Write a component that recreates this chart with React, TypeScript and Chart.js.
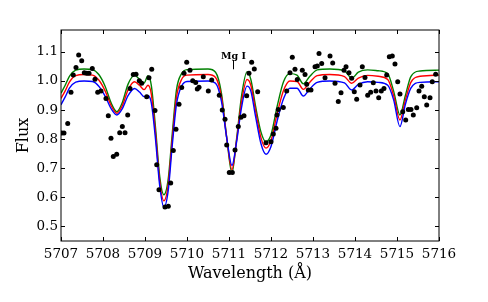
import React, { useEffect, useRef } from "react";
import { Chart, registerables } from "chart.js";

Chart.register(...registerables);

// Observed spectrum (points)
const obsWave = [
  5707.017, 5707.071, 5707.160, 5707.238, 5707.293, 5707.357, 5707.421, 5707.493, 5707.555, 5707.612,
  5707.667, 5707.745, 5707.810, 5707.874, 5707.952, 5708.071, 5708.126, 5708.190, 5708.245, 5708.326,
  5708.398, 5708.460, 5708.524, 5708.588, 5708.643, 5708.721, 5708.786, 5708.864, 5708.921, 5709.040,
  5709.095, 5709.160, 5709.238, 5709.279, 5709.333, 5709.476, 5709.555, 5709.612, 5709.674, 5709.738,
  5709.810, 5709.874, 5709.929, 5709.993, 5710.071, 5710.136, 5710.207, 5710.245, 5710.286, 5710.388,
  5710.507, 5710.588, 5710.769, 5710.840, 5710.905, 5710.945, 5711.007, 5711.079, 5711.143, 5711.221,
  5711.286, 5711.357, 5711.421, 5711.476, 5711.540, 5711.602, 5711.683, 5711.881, 5712.000, 5712.055,
  5712.119, 5712.143, 5712.174, 5712.293, 5712.374, 5712.452, 5712.507, 5712.571, 5712.626, 5712.745,
  5712.810, 5712.850, 5712.888, 5712.952, 5713.048, 5713.102, 5713.143, 5713.207, 5713.286, 5713.405,
  5713.469, 5713.524, 5713.602, 5713.667, 5713.738, 5713.786, 5713.857, 5713.921, 5713.983, 5714.040,
  5714.119, 5714.174, 5714.238, 5714.302, 5714.374, 5714.436, 5714.500, 5714.564, 5714.626, 5714.690,
  5714.755, 5714.817, 5714.888, 5714.952, 5715.017, 5715.071, 5715.136, 5715.207, 5715.269, 5715.333,
  5715.388, 5715.469, 5715.524, 5715.588, 5715.650, 5715.707, 5715.786, 5715.840, 5715.921,
];
const obsFlux = [
  0.821, 0.821, 0.854, 0.961, 1.020, 1.046, 1.089, 1.069, 1.028, 1.026,
  1.026, 1.043, 1.006, 0.961, 0.965, 0.940, 0.880, 0.803, 0.740, 0.748,
  0.822, 0.843, 0.822, 0.883, 0.974, 1.022, 1.023, 1.001, 0.992, 0.946,
  1.011, 1.040, 0.898, 0.712, 0.626, 0.567, 0.569, 0.649, 0.761, 0.834,
  0.920, 0.977, 1.026, 1.064, 1.037, 1.001, 0.995, 0.972, 0.978, 1.014,
  0.965, 1.003, 0.951, 0.900, 0.868, 0.780, 0.685, 0.685, 0.763, 0.843,
  0.875, 0.880, 0.949, 1.026, 1.064, 1.041, 0.963, 0.788, 0.791, 0.818,
  0.837, 0.883, 0.902, 0.909, 0.965, 1.028, 1.081, 1.040, 1.005, 1.037,
  1.022, 0.989, 0.969, 0.969, 1.049, 1.051, 1.094, 1.060, 1.011, 1.086,
  1.062, 0.992, 0.929, 0.959, 1.037, 1.049, 1.028, 1.009, 0.963, 0.937,
  0.986, 1.049, 1.012, 0.951, 0.961, 0.994, 0.965, 0.942, 0.965, 0.974,
  1.020, 1.083, 1.086, 1.058, 0.997, 0.955, 0.894, 0.866, 0.902, 0.902,
  0.883, 0.908, 0.965, 0.982, 0.946, 0.917, 0.942, 0.997, 1.023,
];

// Synthetic spectra (lines)
const modelWave = [
  5707.00, 5707.10, 5707.20, 5707.35, 5707.55, 5707.75, 5707.90, 5708.05, 5708.20, 5708.33,
  5708.45, 5708.60, 5708.75, 5708.87, 5708.98, 5709.07, 5709.15, 5709.25, 5709.35, 5709.45,
  5709.55, 5709.65, 5709.75, 5709.87, 5710.00, 5710.50, 5710.68, 5710.82, 5710.95, 5711.07,
  5711.18, 5711.30, 5711.43, 5711.52, 5711.63, 5711.76, 5711.88, 5712.00, 5712.15, 5712.30,
  5712.45, 5712.62, 5712.77, 5712.92, 5713.10, 5713.40, 5713.75, 5713.92, 5714.08, 5714.30,
  5714.55, 5714.78, 5714.92, 5715.07, 5715.20, 5715.33, 5715.55, 5716.00,
];
const blueFlux = [
  0.918, 0.945, 0.975, 0.996, 1.000, 0.998, 0.982, 0.948, 0.903, 0.883,
  0.902, 0.950, 0.974, 0.962, 0.946, 0.950, 0.925, 0.800, 0.640, 0.566,
  0.620, 0.780, 0.920, 0.982, 0.998, 1.000, 0.992, 0.930, 0.800, 0.710,
  0.790, 0.910, 0.982, 0.965, 0.880, 0.785, 0.748, 0.775, 0.865, 0.940,
  0.975, 0.975, 0.948, 0.972, 0.995, 1.000, 0.993, 0.969, 0.988, 0.997,
  0.995, 0.985, 0.935, 0.843, 0.920, 0.975, 0.995, 0.997,
];
const redFlux = [
  0.940, 0.966, 0.996, 1.018, 1.022, 1.020, 1.003, 0.966, 0.913, 0.889,
  0.912, 0.970, 0.997, 0.985, 0.970, 0.985, 0.955, 0.820, 0.655, 0.588,
  0.640, 0.800, 0.945, 1.005, 1.020, 1.022, 1.012, 0.945, 0.800, 0.695,
  0.795, 0.930, 1.005, 0.985, 0.900, 0.805, 0.769, 0.795, 0.890, 0.968,
  1.000, 0.998, 0.971, 0.995, 1.018, 1.022, 1.015, 0.992, 1.010, 1.019,
  1.016, 1.005, 0.950, 0.866, 0.935, 0.995, 1.016, 1.020,
];
const greenFlux = [
  0.958, 0.985, 1.016, 1.037, 1.041, 1.039, 1.022, 0.982, 0.922, 0.894,
  0.922, 0.990, 1.019, 1.006, 0.993, 1.018, 0.985, 0.840, 0.672, 0.609,
  0.660, 0.820, 0.970, 1.025, 1.039, 1.041, 1.030, 0.958, 0.800, 0.683,
  0.800, 0.950, 1.032, 1.005, 0.915, 0.825, 0.791, 0.815, 0.915, 0.998,
  1.025, 1.020, 0.990, 1.015, 1.038, 1.041, 1.035, 1.009, 1.030, 1.038,
  1.035, 1.025, 0.965, 0.883, 0.950, 1.015, 1.034, 1.037,
];

const xTicks = [5707, 5708, 5709, 5710, 5711, 5712, 5713, 5714, 5715, 5716];
const yTicks = [0.5, 0.6, 0.7, 0.8, 0.9, 1.0, 1.1];

const lineLabel = "Mg I";
const lineWave = 5711.1;

const SERIF = "'DejaVu Serif', serif";

const framePlugin = {
  id: "frame",
  afterDatasetsDraw(chart: any) {
    const { ctx, chartArea, scales } = chart;
    const { left, right, top, bottom } = chartArea;
    const x = scales.x;
    const y = scales.y;
    ctx.save();
    ctx.strokeStyle = "#000";
    ctx.lineWidth = 1;
    ctx.strokeRect(left, top, right - left, bottom - top);
    const tl = 4;
    ctx.beginPath();
    xTicks.forEach((v) => {
      const px = Math.round(x.getPixelForValue(v)) + 0.5;
      ctx.moveTo(px, bottom);
      ctx.lineTo(px, bottom - tl);
      ctx.moveTo(px, top);
      ctx.lineTo(px, top + tl);
    });
    yTicks.forEach((v) => {
      const py = Math.round(y.getPixelForValue(v)) + 0.5;
      ctx.moveTo(left, py);
      ctx.lineTo(left + tl, py);
      ctx.moveTo(right, py);
      ctx.lineTo(right - tl, py);
    });
    ctx.stroke();

    // Line identification
    const lx = Math.round(x.getPixelForValue(lineWave)) + 0.5;
    ctx.beginPath();
    ctx.moveTo(lx, y.getPixelForValue(1.04));
    ctx.lineTo(lx, y.getPixelForValue(1.072));
    ctx.stroke();
    ctx.fillStyle = "#000";
    ctx.font = "bold 9.5px " + SERIF;
    ctx.textAlign = "center";
    ctx.textBaseline = "alphabetic";
    ctx.fillText(lineLabel, lx, y.getPixelForValue(1.076));
    ctx.restore();
  },
};

export default function App() {
  const ref = useRef<HTMLCanvasElement>(null);
  useEffect(() => {
    if (!ref.current) return;
    const mk = (ys: number[]) => modelWave.map((w, i) => ({ x: w, y: ys[i] }));
    const chart = new Chart(ref.current, {
      type: "line",
      data: {
        datasets: [
          {
            type: "scatter",
            data: obsWave.map((w, i) => ({ x: w, y: obsFlux[i] })),
            backgroundColor: "#000",
            borderColor: "#000",
            pointRadius: 2.5,
            pointBorderWidth: 0,
            order: 0,
          } as any,
          {
            data: mk(blueFlux),
            borderColor: "#0000ff",
            borderWidth: 1.4,
            pointRadius: 0,
            cubicInterpolationMode: "monotone",
            order: 1,
          },
          {
            data: mk(redFlux),
            borderColor: "#ff0000",
            borderWidth: 1.4,
            pointRadius: 0,
            cubicInterpolationMode: "monotone",
            order: 2,
          },
          {
            data: mk(greenFlux),
            borderColor: "#008000",
            borderWidth: 1.4,
            pointRadius: 0,
            cubicInterpolationMode: "monotone",
            order: 3,
          },
        ],
      },
      options: {
        animation: false,
        responsive: false,
        devicePixelRatio: 1,
        layout: { padding: { left: 0, right: 49, top: 30, bottom: 0 } },
        plugins: { legend: { display: false }, tooltip: { enabled: false } },
        scales: {
          x: {
            type: "linear",
            min: 5707,
            max: 5716,
            grid: { display: false, drawTicks: false },
            border: { display: false },
            afterBuildTicks: (s: any) => {
              s.ticks = xTicks.map((v) => ({ value: v }));
            },
            afterFit: (s: any) => {
              s.height = 61;
            },
            ticks: {
              autoSkip: false,
              maxRotation: 0,
              padding: 5,
              color: "#000",
              font: { family: SERIF, size: 13.5 },
              callback: (v: any) => String(v),
            },
            title: {
              display: true,
              text: "Wavelength (Å)",
              color: "#000",
              font: { family: SERIF, size: 16 },
              padding: { top: 0, bottom: 19 },
            },
          },
          y: {
            type: "linear",
            min: 0.45,
            max: 1.175,
            grid: { display: false, drawTicks: false },
            border: { display: false },
            afterBuildTicks: (s: any) => {
              s.ticks = yTicks.map((v) => ({ value: v }));
            },
            afterFit: (s: any) => {
              s.width = 61;
            },
            ticks: {
              padding: 3,
              color: "#000",
              font: { family: SERIF, size: 13.5 },
              callback: (v: any) => Number(v).toFixed(1),
            },
            title: {
              display: true,
              text: "Flux",
              color: "#000",
              font: { family: SERIF, size: 16 },
              padding: { top: 14, bottom: 0 },
            },
          },
        },
      },
      plugins: [framePlugin],
    } as any);
    return () => chart.destroy();
  }, []);
  return (
    <div style={{ position: "absolute", left: 0, top: 0, width: 488, height: 302, background: "#fff" }}>
      <canvas ref={ref} width={488} height={302} />
    </div>
  );
}
